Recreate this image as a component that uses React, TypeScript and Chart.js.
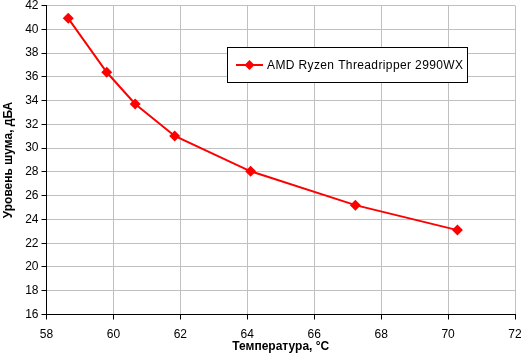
import React, { useEffect, useRef } from "react";
import { Chart, registerables } from "chart.js";

Chart.register(...registerables);

const seriesLabel = "AMD Ryzen Threadripper 2990WX";
const temperatures = [58.65, 59.8, 60.65, 61.83, 64.1, 67.23, 70.28];
const noiseLevels = [40.92, 36.38, 33.71, 31.02, 28.05, 25.2, 23.1];
const xTitle = "Температура, °С";
const yTitle = "Уровень шума, дБА";
const xRange = [58, 72];
const yRange = [16, 42];

const FONT = "'Liberation Sans', Arial, sans-serif";

const legendPlugin = {
  id: "boxLegend",
  afterDraw(chart: any) {
    const ctx = chart.ctx as CanvasRenderingContext2D;
    const ds = chart.data.datasets[0];
    ctx.save();
    const x0 = 227.5, y0 = 47.5, w = 240, h = 35;
    ctx.fillStyle = "#ffffff";
    ctx.fillRect(x0, y0, w, h);
    ctx.strokeStyle = "#000000";
    ctx.lineWidth = 1;
    ctx.strokeRect(x0, y0, w, h);
    const cy = y0 + h / 2;
    ctx.strokeStyle = "#ff0000";
    ctx.lineWidth = 2;
    ctx.beginPath();
    ctx.moveTo(236, cy);
    ctx.lineTo(263, cy);
    ctx.stroke();
    ctx.fillStyle = "#ff0000";
    ctx.beginPath();
    const r = 5;
    const mx = 249.5;
    ctx.moveTo(mx, cy - r);
    ctx.lineTo(mx + r, cy);
    ctx.lineTo(mx, cy + r);
    ctx.lineTo(mx - r, cy);
    ctx.closePath();
    ctx.fill();
    ctx.fillStyle = "#000000";
    ctx.font = `12px ${FONT}`;
    ctx.textBaseline = "middle";
    ctx.textAlign = "left";
    const label = ds.label as string;
    const target = 196;
    const mw = ctx.measureText(label).width;
    const extra = (target - mw) / (label.length - 1);
    try {
      (ctx as any).letterSpacing = `${extra}px`;
    } catch (e) {}
    ctx.fillText(label, 267, cy + 1);
    ctx.restore();
  },
};

export default function App() {
  const ref = useRef<HTMLCanvasElement | null>(null);
  useEffect(() => {
    document.body.style.margin = "0";
    const canvas = ref.current!;
    const points = temperatures.map((t, i) => ({ x: t, y: noiseLevels[i] }));
    const chart = new Chart(canvas, {
      type: "line",
      data: {
        datasets: [
          {
            label: seriesLabel,
            data: points,
            borderColor: "#ff0000",
            backgroundColor: "#ff0000",
            borderWidth: 2,
            pointStyle: "rectRot",
            pointRadius: 5.5,
            pointBorderWidth: 0,
            pointBackgroundColor: "#ff0000",
            tension: 0,
          },
        ],
      },
      options: {
        animation: false,
        responsive: false,
        maintainAspectRatio: false,
        layout: { padding: { top: 5, right: 6, left: 0, bottom: 0 } },
        plugins: { legend: { display: false }, tooltip: { enabled: false } },
        scales: {
          x: {
            type: "linear",
            min: xRange[0],
            max: xRange[1],
            ticks: {
              stepSize: 2,
              color: "#000",
              font: { size: 12, family: FONT },
              padding: 8,
              maxRotation: 0,
            },
            grid: { color: "#c0c0c0", tickColor: "#000", tickLength: 5, lineWidth: 1 },
            border: { color: "#000", width: 1 },
            title: {
              display: true,
              text: xTitle,
              color: "#000",
              font: { size: 12, weight: "bold", family: FONT },
              padding: { top: 0, bottom: 0 },
            },
            afterFit(scale: any) {
              scale.height = 39.5;
              scale.paddingLeft = 0;
              scale.paddingRight = 0;
            },
          },
          y: {
            type: "linear",
            min: yRange[0],
            max: yRange[1],
            ticks: {
              stepSize: 2,
              color: "#000",
              font: { size: 12, family: FONT },
              padding: 3,
            },
            grid: { color: "#c0c0c0", tickColor: "#000", tickLength: 5, lineWidth: 1 },
            border: { color: "#000", width: 1 },
            title: {
              display: true,
              text: yTitle,
              color: "#000",
              font: { size: 12, weight: "bold", family: FONT },
              padding: { top: 1, bottom: 0 },
            },
            afterFit(scale: any) {
              scale.width = 46.5;
              scale.paddingTop = 0;
              scale.paddingBottom = 0;
            },
          },
        },
      },
      plugins: [legendPlugin],
    });
    return () => chart.destroy();
  }, []);
  return (
    <div style={{ width: 521, height: 354, background: "#fff" }}>
      <canvas ref={ref} width={521} height={354} style={{ display: "block" }} />
    </div>
  );
}
